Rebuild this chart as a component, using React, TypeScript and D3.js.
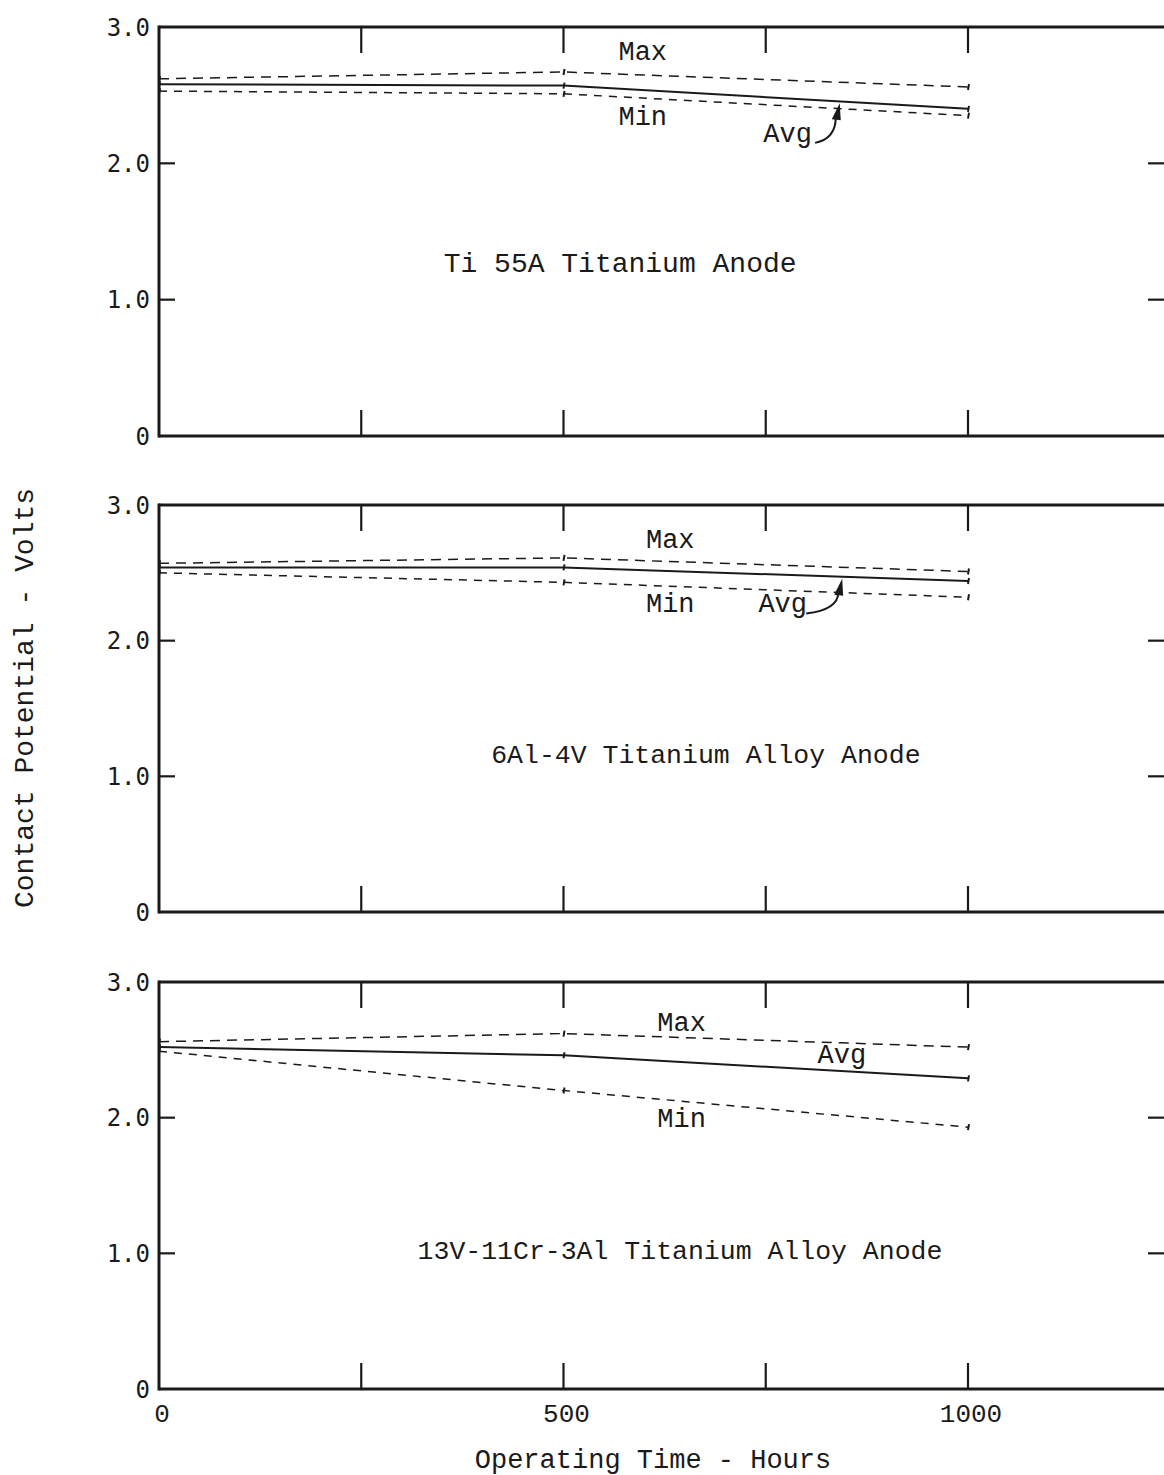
import React from "react";
import * as d3 from "d3";

// operating time in hours where readings were taken
const hours = [0, 500, 1000];

// contact potential, volts
const ti55Max = [2.62, 2.67, 2.56];
const ti55Avg = [2.58, 2.57, 2.4];
const ti55Min = [2.53, 2.51, 2.35];

const al6Max = [2.57, 2.61, 2.51];
const al6Avg = [2.54, 2.54, 2.44];
const al6Min = [2.5, 2.43, 2.32];

const v13Max = [2.56, 2.62, 2.52];
const v13Avg = [2.52, 2.46, 2.29];
const v13Min = [2.49, 2.2, 1.93];

const panelTitles = [
  "Ti 55A Titanium Anode",
  "6Al-4V Titanium Alloy Anode",
  "13V-11Cr-3Al Titanium Alloy Anode",
];
const yTicks = [0, 1, 2, 3];
const yTickLabels = ["0", "1.0", "2.0", "3.0"];
const xTicks = [0, 500, 1000];
const xMinorTicks = [250, 500, 750, 1000];

const W = 1164;
const H = 1475;
const typeFont = "'Liberation Mono', 'Courier New', monospace";
const tickFont = "'DejaVu Sans Mono', monospace";
const ink = "#1a1a1a";

const x = d3.scaleLinear().domain([0, 1000]).range([159, 968]);

// label positions in (hours, volts), one entry per panel
const layout = [
  { top: 27, zero: 436, titleSize: 28, max: [598, 2.76], min: [598, 2.28], avg: [777, 2.16], title: [570, 1.2], arrow: { tail: [811, 2.15], tip: 839 } },
  { top: 505, zero: 912, titleSize: 26.5, max: [632, 2.68], min: [632, 2.21], avg: [771, 2.21], title: [676, 1.1], arrow: { tail: [800, 2.2], tip: 842 } },
  { top: 982, zero: 1389, titleSize: 26.5, max: [646, 2.64], min: [646, 1.93], avg: [844, 2.4], title: [644, 0.96], arrow: null },
];

const series = [
  [ti55Max, ti55Avg, ti55Min],
  [al6Max, al6Avg, al6Min],
  [v13Max, v13Avg, v13Min],
];

function Panel({ idx }: { idx: number }) {
  const L = layout[idx];
  const y = d3.scaleLinear().domain([0, 3]).range([L.zero, L.top]);
  const [mx, av, mn] = series[idx];
  const line = d3
    .line<number>()
    .x((_, i) => x(hours[i]))
    .y((d) => y(d));
  const styles = [
    { d: mx, dash: "10,7", w: 1.5 },
    { d: av, dash: "", w: 2 },
    { d: mn, dash: "8,7", w: 1.5 },
  ];
  const avgAt = d3.scaleLinear().domain(hours).range(av);

  let arrow = null;
  if (L.arrow) {
    const tx = x(L.arrow.tip);
    const ty = y(avgAt(L.arrow.tip)) + 2;
    const sx = x(L.arrow.tail[0]);
    const sy = y(L.arrow.tail[1]);
    const path = d3.path();
    path.moveTo(sx, sy);
    path.quadraticCurveTo(tx - 2, sy - 4, tx - 2, ty + 14);
    arrow = (
      <g>
        <path d={path.toString()} fill="none" stroke={ink} strokeWidth={2} />
        <path d={`M${tx - 6},${ty + 16} L${tx + 2},${ty} L${tx + 3},${ty + 17} Z`} fill={ink} />
      </g>
    );
  }

  return (
    <g>
      {/* frame */}
      <line x1={x(0)} x2={W} y1={y(3)} y2={y(3)} stroke={ink} strokeWidth={3} />
      <line x1={x(0)} x2={W} y1={y(0)} y2={y(0)} stroke={ink} strokeWidth={3} />
      <line x1={x(0)} x2={x(0)} y1={y(3) - 1.5} y2={y(0) + 1.5} stroke={ink} strokeWidth={3} />
      {xMinorTicks.map((t) => (
        <g key={t}>
          <line x1={x(t)} x2={x(t)} y1={y(3)} y2={y(3) + 26} stroke={ink} strokeWidth={2.2} />
          <line x1={x(t)} x2={x(t)} y1={y(0)} y2={y(0) - 26} stroke={ink} strokeWidth={2.2} />
        </g>
      ))}
      {[1, 2].map((t) => (
        <g key={t}>
          <line x1={x(0)} x2={x(0) + 16} y1={y(t)} y2={y(t)} stroke={ink} strokeWidth={2.2} />
          <line x1={W - 16} x2={W} y1={y(t)} y2={y(t)} stroke={ink} strokeWidth={2.2} />
        </g>
      ))}
      {yTicks.map((t, i) => (
        <text key={t} x={150} y={y(t)} dy="0.36em" textAnchor="end" fontFamily={tickFont} fontSize={24} fill={ink}>
          {yTickLabels[i]}
        </text>
      ))}
      {/* data */}
      {styles.map((s, i) => (
        <path key={i} d={line(s.d) || ""} fill="none" stroke={ink} strokeWidth={s.w} strokeDasharray={s.dash} />
      ))}
      {styles.map((s, i) =>
        s.d.map((v, j) => (
          <line key={`${i}-${j}`} x1={x(hours[j]) + 1} x2={x(hours[j])} y1={y(v) - 3} y2={y(v) + 3} stroke={ink} strokeWidth={2} />
        ))
      )}
      {arrow}
      {/* labels */}
      <text x={x(L.max[0])} y={y(L.max[1])} textAnchor="middle" fontFamily={typeFont} fontSize={27} fill={ink}>Max</text>
      <text x={x(L.min[0])} y={y(L.min[1])} textAnchor="middle" fontFamily={typeFont} fontSize={27} fill={ink}>Min</text>
      <text x={x(L.avg[0])} y={y(L.avg[1])} textAnchor="middle" fontFamily={typeFont} fontSize={27} fill={ink}>Avg</text>
      <text x={x(L.title[0])} y={y(L.title[1])} textAnchor="middle" fontFamily={typeFont} fontSize={L.titleSize} fill={ink}>
        {panelTitles[idx]}
      </text>
    </g>
  );
}

export default function App() {
  const yBottom = layout[2].zero;
  return (
    <svg width={W} height={H} style={{ position: "absolute", left: 0, top: 0, background: "#fff" }}>
      <rect width={W} height={H} fill="#fff" />
      {[0, 1, 2].map((i) => (
        <Panel key={i} idx={i} />
      ))}
      {xTicks.map((t) => (
        <text key={t} x={x(t) + 3} y={yBottom + 33} textAnchor="middle" fontFamily={typeFont} fontSize={26} fill={ink}>
          {t}
        </text>
      ))}
      <text x={653} y={1468} textAnchor="middle" fontFamily={typeFont} fontSize={27} fill={ink}>
        Operating Time - Hours
      </text>
      <text transform="translate(33,698) rotate(-90)" textAnchor="middle" fontFamily={typeFont} fontSize={28} fill={ink}>
        Contact Potential - Volts
      </text>
    </svg>
  );
}
